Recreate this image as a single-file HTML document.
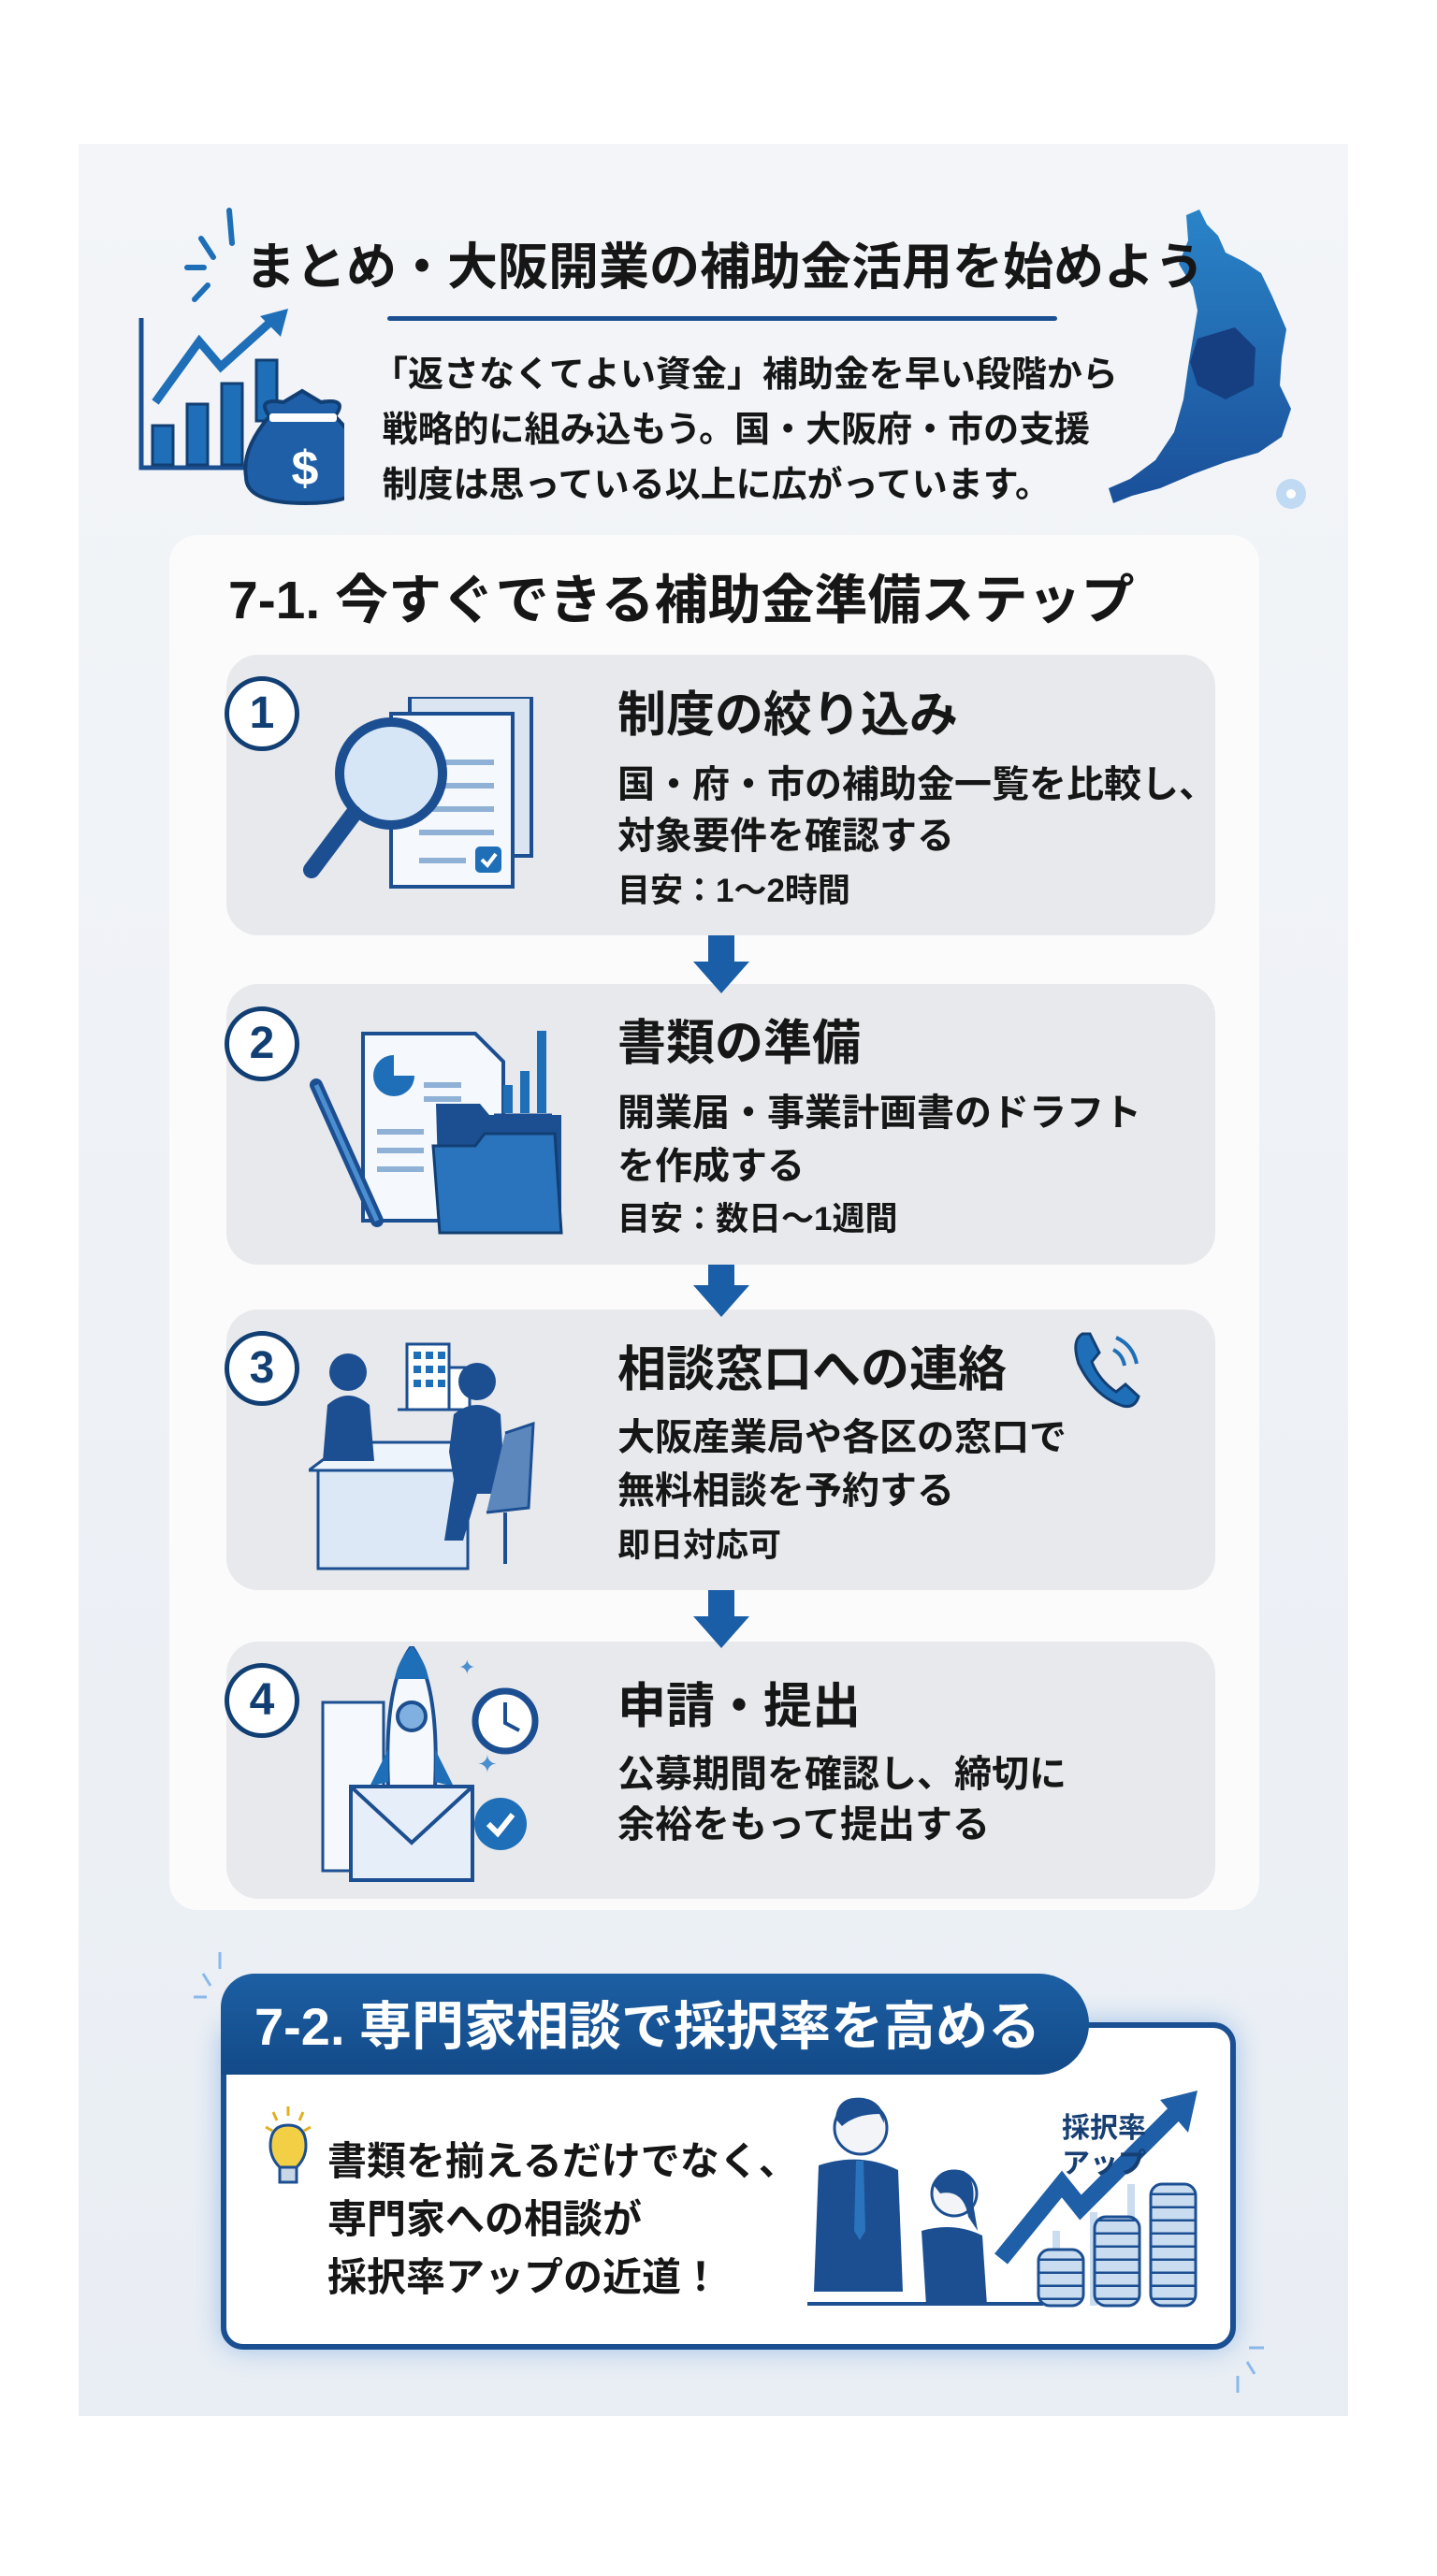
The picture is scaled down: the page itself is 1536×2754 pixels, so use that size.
<!DOCTYPE html>
<html><head><meta charset="utf-8">
<style>
*{margin:0;padding:0;box-sizing:border-box}
body{width:1536px;height:2754px;background:#fff;position:relative;overflow:hidden;font-family:"Liberation Sans","Noto Sans CJK JP",sans-serif;color:#161616}
.a{position:absolute;white-space:nowrap}
.t{font-weight:700;line-height:1}
.panel{left:84px;top:154px;width:1357px;height:2429px;background:linear-gradient(#f3f5f8,#e9eef4)}
.card{left:181px;top:572px;width:1165px;height:1470px;background:#fbfbfc;border-radius:30px}
.step{left:242px;width:1057px;background:#e8e9ec;border-radius:34px}
.num{width:80px;height:80px;border:5px solid #123f73;border-radius:50%;background:#fff;color:#123f73;font-weight:700;font-size:48px;line-height:70px;text-align:center;left:240px}
.st{font-size:52px;left:660px}
.sd{font-size:40px;left:660px}
.sm{font-size:35px;left:660px}
.arr{left:741px;width:60px}
</style></head><body>
<div class="a panel"></div>

<!-- header -->
<svg class="a" style="left:1180px;top:222px" width="250" height="330" viewBox="0 0 250 330"><defs><linearGradient id="og" x1="0" y1="0" x2="0" y2="1"><stop offset="0" stop-color="#2a84c8"/><stop offset="1" stop-color="#1a4f99"/></linearGradient></defs><path d="M88 8 L102 2 L110 18 L122 30 L130 48 L150 58 L168 70 L180 95 L195 130 L190 160 L188 190 L200 215 L190 245 L165 262 L130 272 L95 285 L60 300 L30 308 L10 316 L5 300 L28 290 L55 270 L75 240 L85 205 L90 170 L95 140 L100 110 L95 85 L80 60 L90 35Z" fill="url(#og)"/><path d="M100 140 L140 128 L162 150 L160 190 L130 205 L100 190 L92 165Z" fill="#163f82"/><circle cx="200" cy="306" r="16" fill="#8ec0f0" opacity=".5"/><circle cx="200" cy="306" r="5" fill="#fff"/></svg>
<svg class="a" style="left:190px;top:220px" width="90" height="110" viewBox="0 0 90 110"><g stroke="#1e6fb8" stroke-width="6" stroke-linecap="round"><line x1="55" y1="5" x2="58" y2="40"/><line x1="25" y1="35" x2="38" y2="55"/><line x1="10" y1="66" x2="28" y2="66"/><line x1="18" y1="100" x2="32" y2="85"/></g></svg>
<div class="a t" style="left:262px;top:259px;font-size:54px;letter-spacing:0px">まとめ・大阪開業の補助金活用を始めよう</div>
<div class="a" style="left:414px;top:338px;width:716px;height:5px;background:#1c4f92;border-radius:3px"></div>
<svg class="a" style="left:148px;top:330px" width="220" height="215" viewBox="0 0 220 215"><polyline points="3,10 3,170 120,170" fill="none" stroke="#1c4f92" stroke-width="5"/><g fill="#1e6fb8" stroke="#123f73" stroke-width="3"><rect x="15" y="125" width="22" height="42"/><rect x="52" y="102" width="22" height="65"/><rect x="89" y="80" width="22" height="87"/><rect x="126" y="55" width="22" height="65"/></g><polyline points="18,100 65,35 88,62 148,8" fill="none" stroke="#1e6fb8" stroke-width="9"/><polygon points="160,0 130,8 152,30" fill="#1e6fb8"/><path d="M140 115 Q125 95 155 100 L175 88 L195 100 Q225 95 210 115 Q245 150 240 180 Q240 208 178 208 Q115 208 115 180 Q110 150 140 115Z" fill="#1e5fa8" stroke="#123f73" stroke-width="4"/><rect x="140" y="112" width="72" height="9" fill="#fff" rx="3"/><text x="178" y="188" font-size="52" font-weight="700" fill="#fff" text-anchor="middle" font-family="Liberation Sans">$</text></svg>
<div class="a t" style="left:398px;top:372px;font-size:38px;line-height:59px;font-weight:700">「返さなくてよい資金」補助金を早い段階から<br>&nbsp;戦略的に組み込もう。国・大阪府・市の支援<br>&nbsp;制度は思っている以上に広がっています。</div>

<!-- 7-1 -->
<div class="a card"></div>
<div class="a t" style="left:244px;top:614px;font-size:57px">7-1. 今すぐできる補助金準備ステップ</div>

<div class="a step" style="top:700px;height:300px"></div>
<div class="a step" style="top:1052px;height:300px"></div>
<div class="a step" style="top:1400px;height:300px"></div>
<div class="a step" style="top:1755px;height:275px"></div>

<svg class="a arr" style="top:1000px" height="62" viewBox="0 0 60 62"><rect x="16" y="0" width="28" height="30" fill="#1a5ea8"/><polygon points="0,28 60,28 30,62" fill="#1a5ea8"/></svg>
<svg class="a arr" style="top:1352px" height="56" viewBox="0 0 60 56"><rect x="16" y="0" width="28" height="24" fill="#1a5ea8"/><polygon points="0,22 60,22 30,56" fill="#1a5ea8"/></svg>
<svg class="a arr" style="top:1700px" height="62" viewBox="0 0 60 62"><rect x="16" y="0" width="28" height="30" fill="#1a5ea8"/><polygon points="0,28 60,28 30,62" fill="#1a5ea8"/></svg>

<!-- step 1 -->
<div class="a num" style="top:723px">1</div>
<svg class="a" style="left:318px;top:745px" width="260" height="215" viewBox="0 0 260 215"><rect x="120" y="0" width="130" height="170" fill="#dbe5f1" stroke="#1c4f92" stroke-width="4"/><rect x="100" y="18" width="130" height="185" fill="#f5f8fc" stroke="#1c4f92" stroke-width="4"/><g stroke="#8fb1d6" stroke-width="6"><line x1="130" y1="70" x2="210" y2="70"/><line x1="130" y1="95" x2="210" y2="95"/><line x1="130" y1="120" x2="210" y2="120"/><line x1="130" y1="145" x2="210" y2="145"/><line x1="130" y1="175" x2="180" y2="175"/></g><rect x="190" y="160" width="28" height="28" rx="5" fill="#1e6fb8"/><polyline points="197,174 203,180 212,168" fill="none" stroke="#fff" stroke-width="4"/><circle cx="100" cy="82" r="55" fill="#d6e6f6" stroke="#1c4f92" stroke-width="10"/><line x1="60" y1="125" x2="15" y2="185" stroke="#1c4f92" stroke-width="18" stroke-linecap="round"/></svg>
<div class="a t st" style="top:739px">制度の絞り込み</div>
<div class="a t sd" style="top:819px">国・府・市の補助金一覧を比較し、</div>
<div class="a t sd" style="top:874px">対象要件を確認する</div>
<div class="a t sm" style="top:935px">目安：1〜2時間</div>

<!-- step 2 -->
<div class="a num" style="top:1076px">2</div>
<svg class="a" style="left:318px;top:1100px" width="300" height="220" viewBox="0 0 300 220"><path d="M70 5 L190 5 L220 35 L220 205 L70 205Z" fill="#f5f8fc" stroke="#1c4f92" stroke-width="4"/><path d="M125 50 A22 22 0 1 1 103 28 L103 50Z" fill="#1e6fb8"/><g stroke="#8fb1d6" stroke-width="6"><line x1="135" y1="60" x2="175" y2="60"/><line x1="135" y1="75" x2="175" y2="75"/><line x1="85" y1="110" x2="135" y2="110"/><line x1="85" y1="130" x2="135" y2="130"/><line x1="85" y1="150" x2="135" y2="150"/></g><g fill="#1e6fb8"><rect x="220" y="60" width="10" height="30"/><rect x="238" y="45" width="10" height="45"/><rect x="256" y="2" width="10" height="88"/></g><line x1="210" y1="92" x2="272" y2="92" stroke="#1c4f92" stroke-width="3"/><path d="M148 80 L195 80 L205 92 L282 92 L282 218 L152 218Z" fill="#1c4f92"/><path d="M145 125 L190 125 L200 112 L275 112 L282 218 L152 218Z" fill="#2a74bd" stroke="#123f73" stroke-width="3"/><line x1="20" y1="60" x2="85" y2="205" stroke="#1c4f92" stroke-width="14" stroke-linecap="round"/><line x1="20" y1="60" x2="85" y2="205" stroke="#4b8fd0" stroke-width="5"/></svg>
<div class="a t st" style="top:1090px">書類の準備</div>
<div class="a t sd" style="top:1170px">開業届・事業計画書のドラフト</div>
<div class="a t sd" style="top:1227px">を作成する</div>
<div class="a t sm" style="top:1286px">目安：数日〜1週間</div>

<!-- step 3 -->
<div class="a num" style="top:1423px">3</div>
<svg class="a" style="left:330px;top:1412px" width="310" height="280" viewBox="0 0 310 280"><rect x="105" y="25" width="45" height="70" fill="#fff" stroke="#1c4f92" stroke-width="3"/><rect x="150" y="50" width="22" height="45" fill="#fff" stroke="#1c4f92" stroke-width="3"/><g fill="#1e6fb8"><rect x="112" y="33" width="8" height="8"/><rect x="125" y="33" width="8" height="8"/><rect x="138" y="33" width="8" height="8"/><rect x="112" y="48" width="8" height="8"/><rect x="125" y="48" width="8" height="8"/><rect x="138" y="48" width="8" height="8"/><rect x="112" y="63" width="8" height="8"/><rect x="125" y="63" width="8" height="8"/><rect x="138" y="63" width="8" height="8"/></g><line x1="95" y1="95" x2="180" y2="95" stroke="#1c4f92" stroke-width="3"/><rect x="10" y="160" width="160" height="105" fill="#dce8f5" stroke="#1c4f92" stroke-width="3"/><polygon points="0,160 170,160 200,130 40,130" fill="#eef4fb" stroke="#1c4f92" stroke-width="3"/><circle cx="42" cy="55" r="20" fill="#1c4f92"/><path d="M20 90 Q42 70 65 90 L70 150 L15 150Z" fill="#1c4f92"/><circle cx="180" cy="65" r="20" fill="#1c4f92"/><path d="M155 100 Q180 80 205 100 L210 185 L180 185 L165 235 L145 235 L155 170 L150 140Z" fill="#1c4f92"/><path d="M210 120 L240 110 L235 200 L190 205" fill="#5c87bd" stroke="#1c4f92" stroke-width="3"/><line x1="210" y1="205" x2="210" y2="260" stroke="#1c4f92" stroke-width="4"/></svg>
<svg class="a" style="left:1145px;top:1418px" width="80" height="90" viewBox="0 0 80 90"><path d="M12 8 Q0 15 8 40 Q25 75 55 85 Q68 88 72 75 L58 62 L48 70 Q30 58 22 38 L30 28 L20 8Z" fill="#1e6fb8" stroke="#123f73" stroke-width="3"/><path d="M45 25 Q55 30 57 42" fill="none" stroke="#1e6fb8" stroke-width="4"/><path d="M48 12 Q66 20 70 40" fill="none" stroke="#1e6fb8" stroke-width="4"/></svg>
<div class="a t st" style="top:1439px">相談窓口への連絡</div>
<div class="a t sd" style="top:1517px">大阪産業局や各区の窓口で</div>
<div class="a t sd" style="top:1574px">無料相談を予約する</div>
<div class="a t sm" style="top:1635px">即日対応可</div>

<!-- step 4 -->
<div class="a num" style="top:1778px">4</div>
<svg class="a" style="left:340px;top:1760px" width="280" height="260" viewBox="0 0 280 260"><path d="M5 60 L70 60 L70 240 L5 240Z" fill="#f5f8fc" stroke="#1c4f92" stroke-width="3"/><path d="M100 0 Q130 40 125 150 L75 150 Q70 40 100 0Z" fill="#f5f8fc" stroke="#1c4f92" stroke-width="4"/><path d="M100 0 Q115 15 118 35 L82 35 Q85 15 100 0Z" fill="#1e6fb8"/><circle cx="100" cy="75" r="15" fill="#7fb0e0" stroke="#1c4f92" stroke-width="4"/><path d="M75 110 L55 150 L75 145Z M125 110 L145 150 L125 145Z" fill="#1e6fb8"/><rect x="35" y="150" width="130" height="100" fill="#e6eff9" stroke="#1c4f92" stroke-width="4"/><polyline points="35,150 100,210 165,150" fill="none" stroke="#1c4f92" stroke-width="4"/><circle cx="200" cy="80" r="32" fill="#fff" stroke="#1c4f92" stroke-width="7"/><polyline points="200,60 200,82 215,90" fill="none" stroke="#1c4f92" stroke-width="4"/><circle cx="195" cy="190" r="28" fill="#1e6fb8"/><polyline points="182,190 192,200 208,180" fill="none" stroke="#fff" stroke-width="6"/><text x="150" y="30" fill="#4b8fd0" font-size="22">✦</text><text x="170" y="135" fill="#4b8fd0" font-size="26">✦</text></svg>
<div class="a t st" style="top:1799px">申請・提出</div>
<div class="a t sd" style="top:1877px">公募期間を確認し、締切に</div>
<div class="a t sd" style="top:1931px">余裕をもって提出する</div>

<!-- 7-2 -->
<div class="a" style="left:236px;top:2162px;width:1085px;height:350px;border:6px solid #1a4f92;border-radius:24px;background:#fff;box-shadow:0 0 28px rgba(70,140,220,.45)"></div>
<div class="a" style="left:236px;top:2110px;width:928px;height:108px;background:linear-gradient(#1c5fa3,#134a88);border-radius:36px 54px 54px 0"></div>
<div class="a t" style="left:272px;top:2139px;font-size:56px;color:#fff">7-2. 専門家相談で採択率を高める</div>
<svg class="a" style="left:205px;top:2085px" width="40" height="60" viewBox="0 0 40 60"><g stroke="#8ab8ea" stroke-width="3"><line x1="30" y1="2" x2="30" y2="20"/><line x1="12" y1="25" x2="20" y2="38"/><line x1="2" y1="50" x2="16" y2="50"/></g></svg>
<svg class="a" style="left:1315px;top:2500px" width="40" height="60" viewBox="0 0 40 60"><g stroke="#8ab8ea" stroke-width="3"><line x1="20" y1="10" x2="36" y2="10"/><line x1="18" y1="25" x2="26" y2="38"/><line x1="8" y1="40" x2="8" y2="58"/></g></svg>
<svg class="a" style="left:282px;top:2252px" width="52" height="90" viewBox="0 0 52 90"><g stroke="#e0b020" stroke-width="3"><line x1="26" y1="0" x2="26" y2="10"/><line x1="10" y1="6" x2="14" y2="15"/><line x1="42" y1="6" x2="38" y2="15"/><line x1="2" y1="22" x2="9" y2="26"/><line x1="50" y1="22" x2="43" y2="26"/></g><path d="M26 20 Q45 20 45 42 Q45 55 35 65 L17 65 Q7 55 7 42 Q7 20 26 20Z" fill="#f3cf45" stroke="#1c4f92" stroke-width="3"/><rect x="17" y="65" width="18" height="16" fill="#c9d6e6" stroke="#1c4f92" stroke-width="3"/></svg>
<div class="a t" style="left:350px;top:2280px;font-size:42px;line-height:62px">書類を揃えるだけでなく、<br>専門家への相談が<br>採択率アップの近道！</div>
<svg class="a" style="left:845px;top:2235px" width="445" height="240" viewBox="0 0 445 240"><defs><pattern id="cn" width="48" height="14" patternUnits="userSpaceOnUse"><rect width="48" height="14" fill="#c9dcf0"/><line x1="0" y1="13" x2="48" y2="13" stroke="#1c4f92" stroke-width="3"/></pattern></defs><g fill="#c9dcf0"><rect x="280" y="150" width="8" height="80"/><rect x="320" y="130" width="8" height="100"/><rect x="360" y="100" width="8" height="130"/></g><polyline points="225,180 290,100 310,125 420,15" fill="none" stroke="#1e5fa8" stroke-width="18"/><polygon points="435,0 395,10 425,45" fill="#1e5fa8"/><text x="290" y="50" font-size="30" font-weight="700" fill="#163f73" font-family="Liberation Sans,Noto Sans CJK JP,sans-serif">採択率</text><text x="290" y="88" font-size="30" font-weight="700" fill="#163f73" font-family="Liberation Sans,Noto Sans CJK JP,sans-serif">アップ</text><g fill="url(#cn)" stroke="#1c4f92" stroke-width="3"><rect x="265" y="170" width="48" height="60" rx="12"/><rect x="325" y="135" width="48" height="95" rx="12"/><rect x="385" y="100" width="48" height="130" rx="12"/></g><circle cx="75" cy="40" r="28" fill="#f2f4f7" stroke="#1c4f92" stroke-width="3"/><path d="M48 30 Q50 5 78 8 Q100 12 100 35 L95 25 Q70 25 55 38Z" fill="#1c4f92"/><path d="M30 80 Q75 65 115 85 L120 215 L25 215Z" fill="#1c4f92"/><path d="M70 75 L78 75 L80 150 L74 160 L68 150Z" fill="#2a74bd"/><circle cx="175" cy="110" r="24" fill="#f2f4f7" stroke="#1c4f92" stroke-width="3"/><path d="M152 100 Q160 80 185 86 Q198 95 195 120 L200 150 L190 135 Q185 105 160 110Z" fill="#1c4f92"/><path d="M140 150 Q175 140 205 155 L210 230 L145 230Z" fill="#1c4f92"/><line x1="18" y1="228" x2="270" y2="228" stroke="#1c4f92" stroke-width="4"/></svg>
</body></html>
